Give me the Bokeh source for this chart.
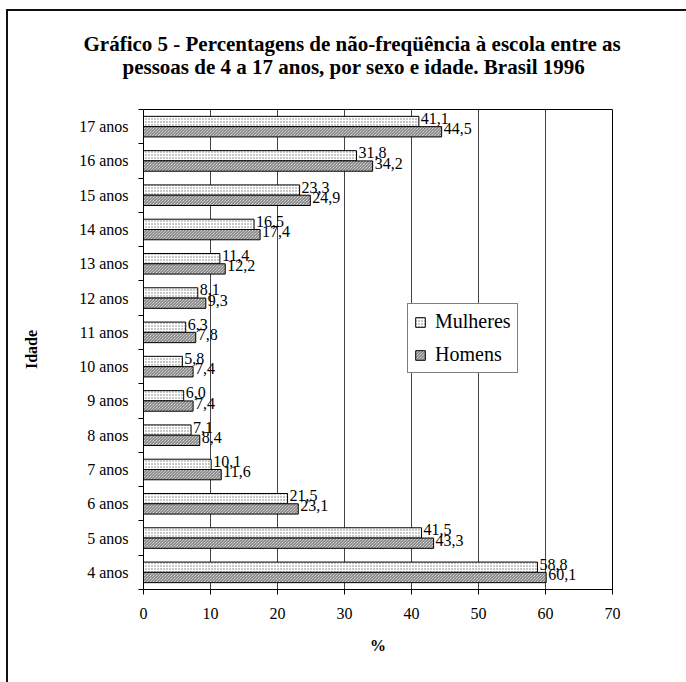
from bokeh.plotting import figure
from bokeh.models import (FixedTicker, Legend, LegendItem, ColumnDataSource,
                          Range1d, Title, LinearAxis, InlineStyleSheet)
from bokeh.core.properties import value
from bokeh.embed import file_html
from bokeh.resources import INLINE

# Idades (de baixo para cima) e percentagens de não-freqüência
idades = ["4 anos", "5 anos", "6 anos", "7 anos", "8 anos", "9 anos", "10 anos",
          "11 anos", "12 anos", "13 anos", "14 anos", "15 anos", "16 anos", "17 anos"]
mulheres = [58.8, 41.5, 21.5, 10.1, 7.1, 6.0, 5.8, 6.3, 8.1, 11.4, 16.5, 23.3, 31.8, 41.1]
homens = [60.1, 43.3, 23.1, 11.6, 8.4, 7.4, 7.4, 7.8, 9.3, 12.2, 17.4, 24.9, 34.2, 44.5]
x_ticks = [0, 10, 20, 30, 40, 50, 60, 70]

titulo_1 = "Gráfico 5 - Percentagens de não-freqüência à escola entre as"
titulo_2 = "pessoas de 4 a 17 anos, por sexo e idade. Brasil 1996"

SERIF = "Liberation Serif"
W, H = 686, 682

centros = [i + 0.5 for i in range(len(idades))]
BAR_H = 0.3

def fmt(v):
    return f"{v:.1f}".replace(".", ",")

src_m = ColumnDataSource(dict(y=[c + BAR_H / 2 for c in centros], v=mulheres,
                              t=[fmt(v) for v in mulheres]))
src_h = ColumnDataSource(dict(y=[c - BAR_H / 2 for c in centros], v=homens,
                              t=[fmt(v) for v in homens]))

p = figure(width=W, height=H, output_backend="svg", toolbar_location=None,
           x_range=Range1d(0, 70), y_range=Range1d(0, len(idades)),
           min_border_left=143, min_border_right=74, min_border_top=109,
           min_border_bottom=93)
p.background_fill_color = "white"
p.border_fill_color = "white"
p.outline_line_color = "black"
p.outline_line_width = 1

# moldura externa (lados esquerdo e superior visíveis)
p.stylesheets = [InlineStyleSheet(css="""
:host { position: relative; }
:host::after {
  content: ""; position: absolute; left: 6px; top: 9px; width: 760px; height: 760px;
  border-left: 2px solid #111; border-top: 2px solid #111; pointer-events: none;
}
""")]

# grade vertical
p.ygrid.visible = False
p.xgrid.ticker = FixedTicker(ticks=x_ticks)
p.xgrid.grid_line_color = "#444444"
p.xgrid.grid_line_width = 1

# eixo x
p.xaxis.ticker = FixedTicker(ticks=x_ticks)
p.xaxis.axis_line_color = "black"
p.xaxis.major_tick_out = 5
p.xaxis.major_tick_in = 0
p.xaxis.minor_tick_line_color = None
p.xaxis.major_label_text_font = SERIF
p.xaxis.major_label_text_font_size = "16px"
p.xaxis.major_label_text_color = "black"
p.xaxis.major_label_standoff = 13
p.xaxis.axis_label = "%"
p.xaxis.axis_label_text_font = SERIF
p.xaxis.axis_label_text_font_style = "bold"
p.xaxis.axis_label_text_font_size = "16px"
p.xaxis.axis_label_text_color = "black"
p.xaxis.axis_label_standoff = 15

# eixo y: rótulos no centro, marcas entre as categorias
p.yaxis.ticker = FixedTicker(ticks=centros, minor_ticks=list(range(len(idades) + 1)))
p.yaxis.major_label_overrides = {c: lab for c, lab in zip(centros, idades)}
p.yaxis.major_tick_line_color = None
p.yaxis.major_tick_out = 0
p.yaxis.major_tick_in = 0
p.yaxis.minor_tick_line_color = "black"
p.yaxis.minor_tick_out = 5
p.yaxis.minor_tick_in = 0
p.yaxis.axis_line_color = "black"
p.yaxis.major_label_text_font = SERIF
p.yaxis.major_label_text_font_size = "16px"
p.yaxis.major_label_text_color = "black"
p.yaxis.major_label_standoff = 10
p.yaxis.axis_label = "Idade"
p.yaxis.axis_label_text_font = SERIF
p.yaxis.axis_label_text_font_style = "bold"
p.yaxis.axis_label_text_font_size = "16px"
p.yaxis.axis_label_text_color = "black"
p.yaxis.axis_label_standoff = 36

# barras
r_m = p.hbar(y="y", right="v", left=0, height=BAR_H, source=src_m,
             fill_color="white", line_color="black", line_width=1,
             hatch_pattern=".", hatch_scale=3, hatch_color="#777777", hatch_weight=1)
r_h = p.hbar(y="y", right="v", left=0, height=BAR_H, source=src_h,
             fill_color="white", line_color="black", line_width=1,
             hatch_pattern="\\", hatch_scale=3, hatch_color="#666666", hatch_weight=1)

# valores ao lado das barras
for src in (src_m, src_h):
    p.text(x="v", y="y", text="t", source=src, x_offset=2, y_offset=-3,
           text_baseline="middle", text_align="left",
           text_font=value(SERIF), text_font_size="16px", text_color="black")

legend = Legend(items=[LegendItem(label="Mulheres", renderers=[r_m]),
                       LegendItem(label="Homens", renderers=[r_h])],
                location=(264, 216), orientation="vertical")
legend.label_text_font = "'Liberation Serif', serif"
legend.label_text_font_style = "normal"
legend.label_text_font_size = "20px"
legend.label_text_color = "black"
legend.glyph_width = 12
legend.glyph_height = 12
legend.label_height = 20
legend.label_standoff = 9
legend.spacing = 10
legend.padding = 6
legend.margin = 0
legend.border_line_color = "black"
legend.border_line_width = 1
legend.background_fill_alpha = 1
p.add_layout(legend, "center")

# espaço entre o título e o gráfico
espaco = LinearAxis(ticker=FixedTicker(ticks=[0]), axis_line_color=None,
                    major_tick_line_color="white", minor_tick_line_color=None,
                    major_tick_out=32, major_tick_in=0, major_label_standoff=0,
                    major_label_overrides={0: ""}, major_label_text_font_size="1px")
p.add_layout(espaco, "above")

# título em duas linhas
for txt, off in ((titulo_2, -21), (titulo_1, -60)):
    p.add_layout(Title(text=txt, align="left", offset=off, standoff=-3,
                       text_font=SERIF, text_font_style="bold",
                       text_font_size="21px", text_color="black"), "above")

open("out.html", "w").write(file_html(p, INLINE))
